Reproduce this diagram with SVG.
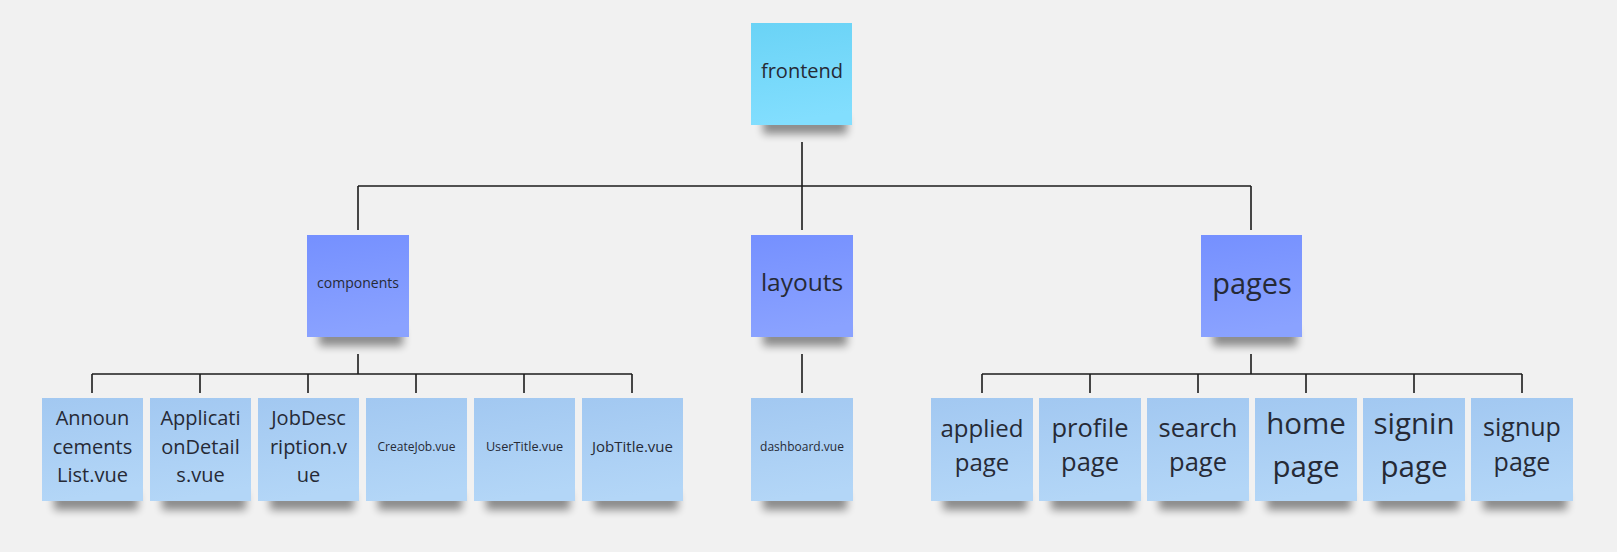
<svg xmlns="http://www.w3.org/2000/svg" width="1617" height="552" viewBox="0 0 1617 552">
<defs>
<linearGradient id="gCyan" x1="0" y1="0" x2="0.15" y2="1"><stop offset="0" stop-color="#6ad3f6"/><stop offset="1" stop-color="#82defe"/></linearGradient>
<linearGradient id="gMid" x1="0" y1="0" x2="0.15" y2="1"><stop offset="0" stop-color="#7590ff"/><stop offset="1" stop-color="#8aa2ff"/></linearGradient>
<linearGradient id="gLeaf" x1="0" y1="0" x2="0.15" y2="1"><stop offset="0" stop-color="#a2c8f1"/><stop offset="1" stop-color="#b3d6f7"/></linearGradient>
<filter id="blur" x="-20%" y="-100%" width="140%" height="300%"><feGaussianBlur stdDeviation="4"/></filter>
<symbol id="sh" overflow="visible"><rect x="12" y="-8" width="84" height="17" fill="#000" opacity="0.42" filter="url(#blur)"/></symbol>
</defs>
<style>
.bg{fill:#f1f1f1}
.cn{fill:none;stroke:#1c1c1c;stroke-width:1.6}
.t{font-family:"Open Sans","Noto Sans","DejaVu Sans",sans-serif;fill:#262a36;text-anchor:middle}
.cyan{fill:url(#gCyan)}
.mid{fill:url(#gMid)}
.leaf{fill:url(#gLeaf)}
</style>
<rect class="bg" x="0" y="0" width="1617" height="552"/>
<g id="connectors">
<path class="cn" d="M802 142V186M358 186H1251M358 186V230M802 186V230M1251 186V230"/>
<path class="cn" d="M358 354V374M92 374H632M92 374V393M200 374V393M308 374V393M416 374V393M524 374V393M632 374V393"/>
<path class="cn" d="M802 354V393"/>
<path class="cn" d="M1251 354V374M982 374H1522M982 374V393M1090 374V393M1198 374V393M1306 374V393M1414 374V393M1522 374V393"/>
</g>
<g id="frontend"><use href="#sh" x="751" y="125"/><rect class="cyan" x="751" y="23" width="101" height="102"/><text class="t" x="802" y="78" font-size="20">frontend</text></g>
<g id="components"><use href="#sh" x="307" y="337"/><rect class="mid" x="307" y="235" width="102" height="102"/><text class="t" x="358" y="288" font-size="14">components</text></g>
<g id="layouts"><use href="#sh" x="751" y="337"/><rect class="mid" x="751" y="235" width="102" height="102"/><text class="t" x="802" y="291" font-size="24.5">layouts</text></g>
<g id="pages"><use href="#sh" x="1201" y="337"/><rect class="mid" x="1201" y="235" width="101" height="102"/><text class="t" x="1252" y="294" font-size="29">pages</text></g>
<g id="announcements"><use href="#sh" x="42" y="501"/><rect class="leaf" x="42" y="398" width="101" height="103"/><text class="t" font-size="20"><tspan x="92.5" y="425">Announ</tspan><tspan x="92.5" y="453.5">cements</tspan><tspan x="92.5" y="482">List.vue</tspan></text></g>
<g id="applicationdetails"><use href="#sh" x="150" y="501"/><rect class="leaf" x="150" y="398" width="101" height="103"/><text class="t" font-size="20"><tspan x="200.5" y="425">Applicati</tspan><tspan x="200.5" y="453.5">onDetail</tspan><tspan x="200.5" y="482">s.vue</tspan></text></g>
<g id="jobdescription"><use href="#sh" x="258" y="501"/><rect class="leaf" x="258" y="398" width="101" height="103"/><text class="t" font-size="20"><tspan x="308.5" y="425">JobDesc</tspan><tspan x="308.5" y="453.5">ription.v</tspan><tspan x="308.5" y="482">ue</tspan></text></g>
<g id="createjob"><use href="#sh" x="366" y="501"/><rect class="leaf" x="366" y="398" width="101" height="103"/><text class="t" x="416.5" y="451" font-size="12">CreateJob.vue</text></g>
<g id="usertitle"><use href="#sh" x="474" y="501"/><rect class="leaf" x="474" y="398" width="101" height="103"/><text class="t" x="524.5" y="451" font-size="12.7">UserTitle.vue</text></g>
<g id="jobtitle"><use href="#sh" x="582" y="501"/><rect class="leaf" x="582" y="398" width="101" height="103"/><text class="t" x="632.5" y="452" font-size="15">JobTitle.vue</text></g>
<g id="dashboard"><use href="#sh" x="751" y="501"/><rect class="leaf" x="751" y="398" width="102" height="103"/><text class="t" x="802" y="451" font-size="12">dashboard.vue</text></g>
<g id="applied"><use href="#sh" x="931" y="501"/><rect class="leaf" x="931" y="398" width="102" height="103"/><text class="t" font-size="24"><tspan x="982" y="437">applied</tspan><tspan x="982" y="471">page</tspan></text></g>
<g id="profile"><use href="#sh" x="1039" y="501"/><rect class="leaf" x="1039" y="398" width="102" height="103"/><text class="t" font-size="25.5"><tspan x="1090" y="437">profile</tspan><tspan x="1090" y="471">page</tspan></text></g>
<g id="search"><use href="#sh" x="1147" y="501"/><rect class="leaf" x="1147" y="398" width="102" height="103"/><text class="t" font-size="25.5"><tspan x="1198" y="437">search</tspan><tspan x="1198" y="471">page</tspan></text></g>
<g id="home"><use href="#sh" x="1255" y="501"/><rect class="leaf" x="1255" y="398" width="102" height="103"/><text class="t" font-size="29.5"><tspan x="1306" y="434">home</tspan><tspan x="1306" y="477">page</tspan></text></g>
<g id="signin"><use href="#sh" x="1363" y="501"/><rect class="leaf" x="1363" y="398" width="102" height="103"/><text class="t" font-size="29.5"><tspan x="1414" y="434">signin</tspan><tspan x="1414" y="477">page</tspan></text></g>
<g id="signup"><use href="#sh" x="1471" y="501"/><rect class="leaf" x="1471" y="398" width="102" height="103"/><text class="t" font-size="25"><tspan x="1522" y="436">signup</tspan><tspan x="1522" y="471">page</tspan></text></g>
</svg>
